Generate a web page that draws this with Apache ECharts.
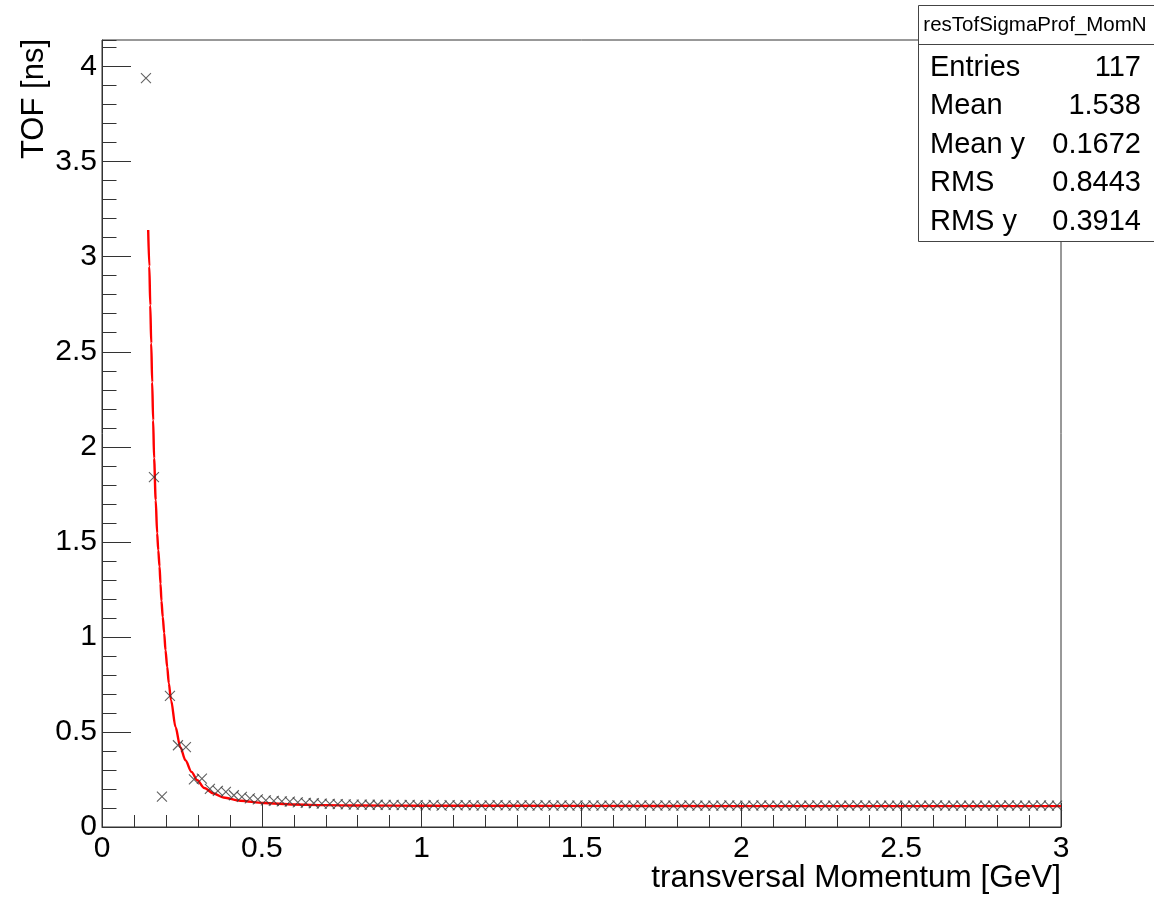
<!DOCTYPE html>
<html><head><meta charset="utf-8">
<script src="https://cdn.jsdelivr.net/npm/echarts@6/dist/echarts.min.js"></script>
<style>html,body{margin:0;padding:0;background:#fff}#c{width:1154px;height:897px}</style>
</head><body><div id="c"></div>
<script>
// ---- data ----
const binStart = 0.125;      // lower edge of first filled bin
const binWidth = 0.025;      // profile bin width
const profileY = [
  3.94, 1.84, 0.16, 0.69, 0.43, 0.42, 0.25, 0.255, 0.20, 0.19,
  0.185, 0.167, 0.158, 0.150, 0.145,
  0.140, 0.138, 0.135, 0.133, 0.130, 0.127, 0.125, 0.123, 0.122, 0.120,
  0.119, 0.118, 0.118, 0.117, 0.117, 0.116, 0.116, 0.115, 0.116, 0.115,
  0.114, 0.116, 0.113, 0.115, 0.114, 0.115, 0.114, 0.113, 0.114, 0.115,
  0.114, 0.113, 0.114, 0.114, 0.113, 0.115, 0.113, 0.114, 0.113, 0.114,
  0.113, 0.114, 0.113, 0.112, 0.114, 0.113, 0.113, 0.114, 0.112, 0.113,
  0.114, 0.112, 0.113, 0.114, 0.113, 0.112, 0.113, 0.112, 0.114, 0.113,
  0.112, 0.113, 0.114, 0.112, 0.113, 0.112, 0.113, 0.113, 0.112, 0.114,
  0.112, 0.113, 0.112, 0.113, 0.114, 0.112, 0.113, 0.112, 0.113, 0.112,
  0.113, 0.112, 0.113, 0.112, 0.114, 0.112, 0.113, 0.112, 0.113, 0.112,
  0.113, 0.112, 0.113, 0.114, 0.112, 0.113, 0.112, 0.114, 0.113, 0.112
];
const curveX = [0.1445, 0.148, 0.151, 0.154, 0.157, 0.160, 0.163, 0.168, 0.1726, 0.176,
  0.180, 0.183, 0.186, 0.190, 0.1946, 0.1986, 0.204, 0.209, 0.216, 0.230,
  0.245, 0.261, 0.280, 0.298, 0.320, 0.349, 0.380, 0.433, 0.505, 0.600,
  0.700, 0.800, 1.000, 1.500, 2.000, 2.500, 3.000];
const curveY = [3.14, 2.95, 2.745, 2.545, 2.34, 2.14, 1.94, 1.72, 1.545, 1.456,
  1.37, 1.28, 1.19, 1.105, 1.02, 0.93, 0.842, 0.756, 0.667, 0.526,
  0.42, 0.351, 0.29, 0.246, 0.205, 0.176, 0.155, 0.138, 0.126, 0.118,
  0.115, 0.113, 0.112, 0.111, 0.110, 0.110, 0.110];
const xRange = [0, 3];
const yRange = [0, 4.14];
const xTitle = 'transversal Momentum [GeV]';
const yTitle = 'TOF [ns]';
const statsTitle = 'resTofSigmaProf_MomN';
const statsLabels = ['Entries', 'Mean', 'Mean y', 'RMS', 'RMS y'];
const statsValues = ['117', '1.538', '0.1672', '0.8443', '0.3914'];

// ---- chart ----
const FONT = '"Liberation Sans", Arial, Helvetica, sans-serif';
const AX = '#333';
const profileData = profileY.map((y, i) => [binStart + binWidth * (i + 0.5), y]);
const curveData = curveX.map((x, i) => [x, curveY[i]]);

const chart = echarts.init(document.getElementById('c'), null, {renderer: 'canvas'});

const statsGraphics = [
  {type: 'rect', z: 100, shape: {x: 918.5, y: 5.5, width: 245, height: 236},
   style: {fill: '#fff', stroke: '#444', lineWidth: 1}},
  {type: 'line', z: 101, shape: {x1: 918.5, y1: 44.5, x2: 1160, y2: 44.5},
   style: {stroke: '#444', lineWidth: 1}},
  {type: 'text', z: 102, x: 1035, y: 25.5,
   style: {text: statsTitle, fill: '#000', font: '20.5px ' + FONT, align: 'center', verticalAlign: 'middle'}}
];
statsLabels.forEach((lab, i) => {
  const y = 67.5 + i * 38.6;
  statsGraphics.push({type: 'text', z: 102, x: 930, y: y,
    style: {text: lab, fill: '#000', font: '29px ' + FONT, align: 'left', verticalAlign: 'middle'}});
  statsGraphics.push({type: 'text', z: 102, x: 1141, y: y,
    style: {text: statsValues[i], fill: '#000', font: '29px ' + FONT, align: 'right', verticalAlign: 'middle'}});
});

const option = {
  animation: false,
  backgroundColor: '#fff',
  grid: {left: 102, right: 93, top: 40, bottom: 70, show: true, borderColor: AX, borderWidth: 1, backgroundColor: '#fff'},
  xAxis: {
    type: 'value', min: xRange[0], max: xRange[1], interval: 0.5,
    axisLine: {show: true, lineStyle: {color: AX, width: 1}},
    axisTick: {show: true, inside: true, length: 24, lineStyle: {color: AX}},
    minorTick: {show: true, splitNumber: 5, length: 12, lineStyle: {color: AX}},
    splitLine: {show: false},
    axisLabel: {fontSize: 30, fontFamily: FONT, color: '#000', margin: 7}
  },
  yAxis: [
    {
      type: 'value', position: 'left', min: yRange[0], max: yRange[1], interval: 0.5,
      axisLine: {show: true, lineStyle: {color: AX, width: 1}},
      axisTick: {show: true, inside: true, length: 29, lineStyle: {color: AX}},
      splitLine: {show: false},
      axisLabel: {fontSize: 30, fontFamily: FONT, color: '#000', margin: 5, showMaxLabel: false,
        formatter: v => (Math.abs(v * 2 - Math.round(v * 2)) < 1e-6 ? String(v) : '')}
    },
    {
      type: 'value', position: 'left', min: yRange[0], max: yRange[1], interval: 0.1,
      axisLine: {show: false},
      axisTick: {show: true, inside: true, length: 14.5, lineStyle: {color: AX}},
      splitLine: {show: false},
      axisLabel: {show: false}
    }
  ],
  series: [
    {
      type: 'line', data: curveData, yAxisIndex: 0, showSymbol: false, smooth: 0.3, smoothMonotone: 'x',
      lineStyle: {color: '#ff0000', width: 2.4}, z: 3, silent: true
    },
    {
      type: 'scatter', data: profileData, yAxisIndex: 0,
      symbol: 'path://M0,0L10,10M10,0L0,10', symbolSize: 10,
      itemStyle: {color: 'none', borderColor: '#3a3a3a', borderWidth: 1.1}, z: 4, silent: true
    }
  ],
  graphic: [
    {type: 'text', x: 34.5, y: 39, rotation: Math.PI / 2,
     style: {text: yTitle, fill: '#000', font: '31px ' + FONT, align: 'right', verticalAlign: 'middle'}},
    {type: 'text', x: 1061, y: 878,
     style: {text: xTitle, fill: '#000', font: '31.5px ' + FONT, align: 'right', verticalAlign: 'middle'}}
  ].concat(statsGraphics)
};
chart.setOption(option);
</script>
</body></html>
